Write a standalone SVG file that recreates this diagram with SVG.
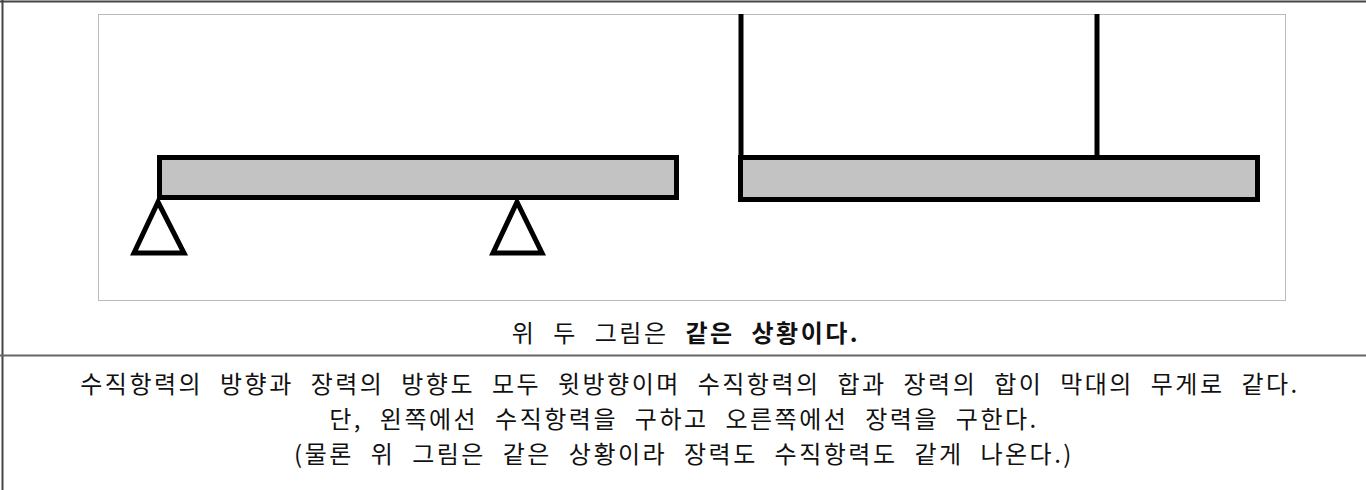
<svg xmlns="http://www.w3.org/2000/svg" width="1366" height="490" viewBox="0 0 1366 490">
<style>
.frame{stroke:#444;stroke-width:2;fill:none}
.sep{stroke:#666;stroke-width:2;fill:none}
.panel{stroke:#bbb;stroke-width:1;fill:#fff}
.beam{fill:#c3c3c3;stroke:#000;stroke-width:5}
.sup{fill:#fff;stroke:#000;stroke-width:5}
.rope{stroke:#000;stroke-width:5;fill:none}
text{font-family:"Noto Sans CJK KR","Liberation Sans",sans-serif;font-size:24px;fill:#111;text-anchor:middle;letter-spacing:2.5px;word-spacing:9px}
.b{font-weight:bold}
</style>
<rect width="1366" height="490" fill="#fff"/>
<line class="frame" x1="0" y1="1.5" x2="1366" y2="1.5"/>
<line class="frame" x1="2.5" y1="0" x2="2.5" y2="490"/>
<rect class="panel" x="98.5" y="14.5" width="1187" height="286"/>
<g id="left-beam">
<rect class="beam" x="159.5" y="157.5" width="517" height="40"/>
</g>
<g id="support-left">
<polygon class="sup" points="158,202 134,253 184,253"/>
</g>
<g id="support-right">
<polygon class="sup" points="517,202 493,253 542,253"/>
</g>
<g id="connectors">
<line class="rope" x1="741" y1="14" x2="741" y2="157"/>
<line class="rope" x1="1097" y1="14" x2="1097" y2="157"/>
</g>
<g id="right-beam">
<rect class="beam" x="740.5" y="157.5" width="517" height="42"/>
</g>
<g id="caption">
<text x="686" y="342">위 두 그림은 <tspan class="b">같은 상황이다.</tspan></text>
</g>
<line class="sep" x1="0" y1="355.5" x2="1366" y2="355.5"/>
<g id="notes">
<text x="690" y="393">수직항력의 방향과 장력의 방향도 모두 윗방향이며 수직항력의 합과 장력의 합이 막대의 무게로 같다.</text>
<text x="684" y="428">단, 왼쪽에선 수직항력을 구하고 오른쪽에선 장력을 구한다.</text>
<text x="684" y="463">(물론 위 그림은 같은 상황이라 장력도 수직항력도 같게 나온다.)</text>
</g>
</svg>
